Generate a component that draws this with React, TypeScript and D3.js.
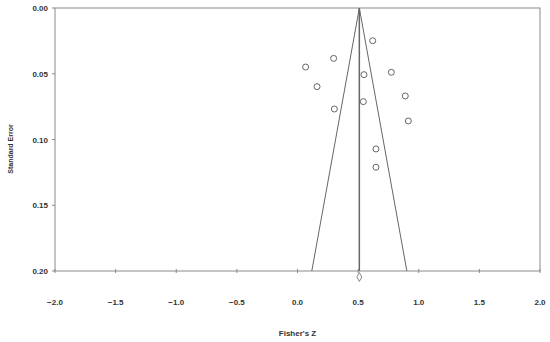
import * as d3 from 'd3';
import React from 'react';

// study effects (Fisher's Z) and their standard errors
const fisherZ = [0.62, 0.298, 0.067, 0.548, 0.774, 0.161, 0.889, 0.543, 0.304, 0.914, 0.647, 0.647];
const stdErr = [0.0249, 0.0383, 0.0449, 0.0507, 0.0489, 0.0598, 0.0669, 0.0712, 0.0768, 0.0859, 0.1072, 0.1211];
const pooled = 0.51;
const xTicks = [-2.0, -1.5, -1.0, -0.5, 0.0, 0.5, 1.0, 1.5, 2.0];
const yTicks = [0.0, 0.05, 0.1, 0.15, 0.2];

function App() {
  const margin = {top: 8, right: 10, bottom: 71, left: 55},
    width = 550,
    height = 342;

  const x = d3.scaleLinear().domain([-2, 2]).range([margin.left, width - margin.right]);
  const y = d3.scaleLinear().domain([0, 0.2]).range([margin.top, height - margin.bottom]);

  const font = '"Liberation Sans", Arial, sans-serif';
  const axisCol = '#8a8a8a';

  // 95% funnel
  const funnel = d3.line<[number, number]>()
    .x(d => x(d[0]))
    .y(d => y(d[1]));
  const funnelPts: [number, number][] = [
    [pooled - 1.96 * 0.2, 0.2],
    [pooled, 0],
    [pooled + 1.96 * 0.2, 0.2],
  ];

  const diamond = d3.symbol().type(d3.symbolDiamond).size(22)();

  return (
    <svg width={width} height={height} style={{position: 'absolute', left: 0, top: 0, background: '#fff'}}>
      {/* frame */}
      <rect x={x(-2)} y={y(0)} width={x(2) - x(-2)} height={y(0.2) - y(0)}
        fill="none" stroke={axisCol} strokeWidth={1} />

      {/* x ticks */}
      {xTicks.map(t => (
        <g key={'x' + t}>
          <line x1={x(t)} x2={x(t)} y1={y(0.2) - 2} y2={y(0.2) + 2} stroke={axisCol} />
          <text x={x(t)} y={y(0.2) + 34} textAnchor="middle" fontFamily={font} fontWeight="bold"
            fontSize={8} fill="#333">{d3.format('.1f')(t).replace('-', '\u2013')}</text>
        </g>
      ))}

      {/* y ticks */}
      {yTicks.map(t => (
        <g key={'y' + t}>
          <line x1={x(-2) - 3} x2={x(-2)} y1={y(t)} y2={y(t)} stroke={axisCol} />
          <text x={x(-2) - 7} y={y(t) + 3} textAnchor="end" fontFamily={font} fontWeight="bold"
            fontSize={8} fill="#333">{d3.format('.2f')(t)}</text>
        </g>
      ))}

      {/* funnel */}
      <path d={funnel(funnelPts) || ''} fill="none" stroke="#666" strokeWidth={1} />
      <line x1={x(pooled)} x2={x(pooled)} y1={y(0)} y2={y(0.2)} stroke="#666" strokeWidth={1.5} />

      {/* studies */}
      {fisherZ.map((z, i) => (
        <circle key={i} cx={x(z)} cy={y(stdErr[i])} r={3} fill="#fff" stroke="#555" strokeWidth={0.9} />
      ))}

      {/* pooled diamond */}
      <path d={diamond || ''} transform={`translate(${x(pooled)},${y(0.2) + 6})`}
        fill="#fff" stroke="#666" strokeWidth={0.8} />

      {/* axis titles */}
      <text x={(x(-2) + x(2)) / 2} y={336} textAnchor="middle" fontFamily={font} fontWeight="bold"
        fontSize={8} fill="#333">Fisher's Z</text>
      <text transform={`translate(12.5,149) rotate(-90)`} textAnchor="middle" fontFamily={font}
        fontWeight="bold" fontSize={7} fill="#333">Standard Error</text>
    </svg>
  );
}

export default App;
